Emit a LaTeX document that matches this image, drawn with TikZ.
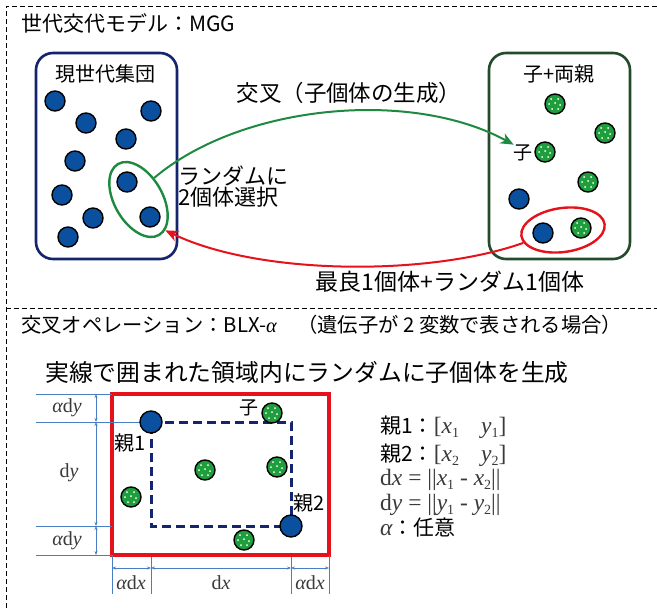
\documentclass[tikz,border=0pt]{standalone}
\usepackage{fontspec}
\setmainfont{Noto Sans CJK JP}
\newfontfamily\tnr{Liberation Serif}
\usetikzlibrary{arrows.meta,shapes.geometric}
\definecolor{navy}{HTML}{14246E}
\definecolor{dotblue}{HTML}{0B4F9F}
\definecolor{kidgreen}{HTML}{1E9E3C}
\definecolor{arrgreen}{HTML}{1E8A40}
\definecolor{boxgreen}{HTML}{244A2C}
\definecolor{myred}{HTML}{E5121C}
\definecolor{dimblue}{HTML}{4A7EC2}
\definecolor{mathgray}{HTML}{3A3A3A}
\newcommand{\fsz}[1]{\fontsize{#1}{#1}\selectfont}
\newcommand{\sv}[2]{{\itshape #1}\raisebox{-0.35ex}{\fontsize{14}{14}\selectfont #2}}
\newcommand{\mth}[1]{{\tnr\fsz{23.5}\color{mathgray}#1}}
\begin{document}
\begin{tikzpicture}[x=1pt,y=-1pt,
  frame/.style={draw=black, line width=1pt, dash pattern=on 5pt off 3pt},
  parent/.style={circle, draw=black, line width=1.4pt, fill=dotblue, minimum size=20pt, inner sep=0pt},
  bigparent/.style={parent, minimum size=22pt},
  kid/.style={parent, fill=kidgreen, path picture={
      \foreach \a/\b in {-4/-5,3/-5,-6/0,0/-1,5/1,-3/5,3/5}
        \fill[white] ([shift={(\a,\b)}]path picture bounding box.center) circle (1pt);}},
  groupbox/.style={rounded corners=17pt, line width=2.6pt, minimum width=141pt, minimum height=206pt},
  lbl/.style={inner sep=0pt, font=\fsz{19}},
  dim/.style={draw=dimblue, line width=0.8pt},
  dimarrow/.style={dim, {Stealth[length=4pt,width=3pt]}-{Stealth[length=4pt,width=3pt]}},
  dimlbl/.style={inner sep=0pt, font=\tnr\fsz{20}, text=mathgray},
  eq/.style={anchor=west, inner sep=0pt, font=\fsz{21}}
]
\useasboundingbox (0,0) rectangle (657,608);
\fill[white] (0,0) rectangle (657,608);

% frame
\coordinate (fbl) at (6,608);
\coordinate (ftl) at (6,6);
\coordinate (ftr) at (657,6);
\coordinate (fml) at (6,308);
\coordinate (fmr) at (657,308);
\draw[frame] (fbl) -- (ftl) -- (ftr);
\draw[frame] (fml) -- (fmr);

% ===== top section =====
\node[lbl, anchor=west, font=\fsz{21}] (t1) at (21,23) {世代交代モデル：MGG};

\node[groupbox, draw=navy] (pop) at (106.5,156) {};
\node[lbl, font=\fsz{20}] (poplbl) at (106,74) {現世代集団};
\foreach \n/\p in {a1/{(55,101)},a2/{(86,123)},a3/{(151,111)},a4/{(126,139)},a5/{(75,161)},
                   a6/{(127,182)},a7/{(62,195)},a8/{(93,218)},a9/{(150,217)},a10/{(68,237)}}
  \node[parent] (\n) at \p {};

\node[draw=arrgreen, line width=2.4pt, ellipse, minimum width=82pt, minimum height=48pt, rotate=-60] (sel) at (138.5,199.5) {};
\node[lbl, font=\fsz{22}, anchor=west, align=left] (sellbl) at (178,187) {ランダムに\\[-1pt]2個体選択};

\node[groupbox, draw=boxgreen] (next) at (559.5,156) {};
\node[lbl, font=\fsz{20}] (nextlbl) at (559,74) {子+両親};
\foreach \n/\p in {k1/{(555,104)},k2/{(605,133)},k3/{(545,152)},k4/{(588,182)},k5/{(581,228)}}
  \node[kid] (\n) at \p {};
\node[parent] (b1) at (519,199) {};
\node[parent] (b2) at (543,233) {};
\node[lbl, font=\fsz{19}, anchor=east] (kidtag) at (533,153) {子};

\node[draw=myred, line width=2.4pt, ellipse, minimum width=84pt, minimum height=44pt, rotate=8] (best) at (563,230) {};

\draw[arrgreen, line width=2pt, -{Stealth[length=13pt,width=11pt,inset=4pt]}]
  (sel.114) .. controls (240,105) and (410,88) .. (kidtag.north west);
\node[lbl, font=\fsz{22.5}] (cross) at (349,93) {交叉（子個体の生成）};

\draw[myred, line width=2pt, -{Stealth[length=13pt,width=11pt,inset=4pt]}]
  (best.190) .. controls (430,276) and (260,276) .. (sel.11);
\node[lbl, font=\fsz{23}] (bestlbl) at (450,282) {最良1個体+ランダム1個体};

% ===== bottom section =====
\node[lbl, anchor=west, font=\fsz{20.3}] (t2) at (21,325) {交叉オペレーション：BLX-{\tnr\itshape α}\quad（遺伝子が 2 変数で表される場合）};
\node[lbl, anchor=west, font=\fsz{23.8}] (t3) at (45,372) {実線で囲まれた領域内にランダムに子個体を生成};

\node[draw=myred, line width=3.5pt, minimum width=217pt, minimum height=161pt, inner sep=0pt] (area) at (220.5,474.5) {};

% dimension lines
\coordinate (h1l) at (36,394); \coordinate (h1r) at (112,394);
\coordinate (h2l) at (36,422);
\coordinate (h3l) at (36,526); \coordinate (h3r) at (112,526);
\coordinate (h4l) at (36,555); \coordinate (h4r) at (112,555);
\coordinate (p1c) at (151,422);
\draw[dim] (h1l) -- (h1r);
\draw[dim] (h2l) -- (p1c);
\draw[dim] (h3l) -- (h3r);
\draw[dim] (h4l) -- (h4r);
\coordinate (va) at (96,394); \coordinate (vb) at (96,422);
\coordinate (vc) at (96,526); \coordinate (vd) at (96,555);
\draw[dimarrow] (va) -- (vb);
\draw[dimarrow] (vb) -- (vc);
\draw[dimarrow] (vc) -- (vd);
\node[dimlbl] (ady1) at (67,408) {{\itshape α}d{\itshape y}};
\node[dimlbl] (dy) at (69,473) {d{\itshape y}};
\node[dimlbl] (ady2) at (67,541) {{\itshape α}d{\itshape y}};

\coordinate (x1t) at (112,555); \coordinate (x1b) at (112,594);
\coordinate (x2t) at (151,557); \coordinate (x2b) at (151,594);
\coordinate (x3t) at (291,557); \coordinate (x3b) at (291,594);
\coordinate (x4t) at (329,555); \coordinate (x4b) at (329,594);
\draw[dim] (x1t) -- (x1b);
\draw[dim] (x2t) -- (x2b);
\draw[dim] (x3t) -- (x3b);
\draw[dim] (x4t) -- (x4b);
\coordinate (ha) at (112,568); \coordinate (hb) at (151,568);
\coordinate (hc) at (291,568); \coordinate (hd) at (329,568);
\draw[dimarrow] (ha) -- (hb);
\draw[dimarrow] (hb) -- (hc);
\draw[dimarrow] (hc) -- (hd);
\node[dimlbl] (adx1) at (131,583) {{\itshape α}d{\itshape x}};
\node[dimlbl] (dx) at (221,583) {d{\itshape x}};
\node[dimlbl] (adx2) at (310,583) {{\itshape α}d{\itshape x}};

% dashed rectangle between the parents
\coordinate (p1c2) at (151,422);
\coordinate (p2c2) at (291,526);
\draw[navy, line width=3pt, dash pattern=on 9pt off 5pt] (p1c2) -| (p2c2) -| (p1c2);
\node[bigparent] (p1) at (p1c2) {};
\node[bigparent] (p2) at (p2c2) {};
\foreach \n/\p in {c1/{(272,413)},c2/{(205,470)},c3/{(277,467)},c4/{(131,497)},c5/{(244,540)}}
  \node[kid] (\n) at \p {};
\node[lbl, anchor=east] (kidlbl2) at (259,408) {子};
\node[lbl, font=\fsz{20}] (p1lbl) at (130,443) {親1};
\node[lbl, font=\fsz{20}] (p2lbl) at (309,503) {親2};

% formulas
\node[eq] (eq1) at (380,427) {親1：\mth{[\sv{x}{1}\hspace{22pt}\sv{y}{1}]}};
\node[eq] (eq2) at (380,455) {親2：\mth{[\sv{x}{2}\hspace{22pt}\sv{y}{2}]}};
\node[eq] (eq3) at (380,480) {\mth{d{\itshape x} = ||\sv{x}{1} - \sv{x}{2}||}};
\node[eq] (eq4) at (380,505) {\mth{d{\itshape y} = ||\sv{y}{1} - \sv{y}{2}||}};
\node[eq] (eq5) at (380,528) {\mth{{\itshape α}}：任意};
\end{tikzpicture}
\end{document}
